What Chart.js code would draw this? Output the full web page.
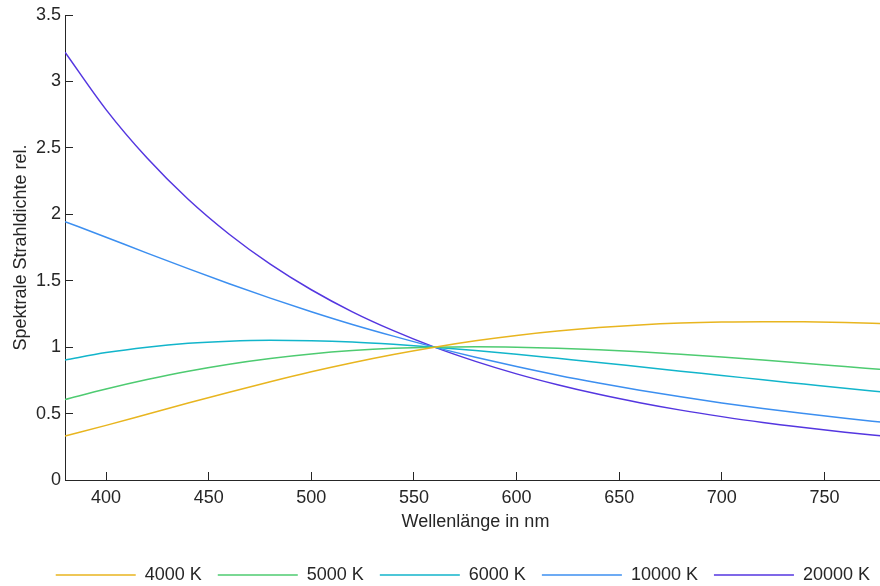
<!DOCTYPE html>
<html>
<head>
<meta charset="utf-8">
<script src="https://cdn.jsdelivr.net/npm/chart.js@4/dist/chart.umd.min.js"></script>
<style>
	html, body { margin: 0; padding: 0; background: #fff; overflow: hidden; }
	#spektrum { display: block; }
</style>
</head>
<body>
<canvas id="spektrum" width="886" height="594"></canvas>
<script>
// Wellenlaengen in nm
const wellenlaenge = [380, 400, 420, 440, 460, 480, 500, 520, 540, 560, 580, 600, 620, 640, 660, 680, 700, 720, 740, 760, 780];

// relative spektrale Strahldichte, bei 560 nm auf 1 normiert
const k4000  = [0.331, 0.411, 0.495, 0.579, 0.661, 0.740, 0.815, 0.883, 0.945, 1.000, 1.048, 1.088, 1.121, 1.147, 1.167, 1.181, 1.189, 1.192, 1.191, 1.186, 1.177];
const k5000  = [0.606, 0.685, 0.756, 0.819, 0.872, 0.915, 0.949, 0.974, 0.991, 1.000, 1.003, 1.000, 0.992, 0.980, 0.965, 0.946, 0.926, 0.903, 0.879, 0.854, 0.829];
const k6000  = [0.903, 0.959, 1.000, 1.029, 1.045, 1.051, 1.048, 1.038, 1.021, 1.000, 0.975, 0.947, 0.916, 0.885, 0.852, 0.819, 0.787, 0.754, 0.722, 0.690, 0.660];
const k10000 = [1.945, 1.827, 1.708, 1.591, 1.477, 1.369, 1.267, 1.171, 1.083, 1.000, 0.924, 0.854, 0.789, 0.730, 0.676, 0.626, 0.580, 0.538, 0.500, 0.464, 0.432];
const k20000 = [3.220, 2.788, 2.423, 2.113, 1.850, 1.625, 1.432, 1.266, 1.124, 1.000, 0.893, 0.799, 0.717, 0.645, 0.582, 0.526, 0.477, 0.433, 0.395, 0.360, 0.329];

const namen  = ['4000 K', '5000 K', '6000 K', '10000 K', '20000 K'];
const farben = ['#e8b51f', '#4ecb71', '#12b5cb', '#3c8ff0', '#5436e0'];
const reihen = [k4000, k5000, k6000, k10000, k20000];

const xTicks = [400, 450, 500, 550, 600, 650, 700, 750];
const yTicks = [0, 0.5, 1, 1.5, 2, 2.5, 3, 3.5];

const dunkel = '#262626';
Chart.defaults.font.family = '"Liberation Sans", Arial, sans-serif';
Chart.defaults.font.size = 18;
Chart.defaults.color = dunkel;

let datasets = reihen.map(function(werte, i){
	return {
		label: namen[i],
		data: werte.map(function(y, j){ return { x: wellenlaenge[j], y: y } }),
		borderColor: farben[i],
		backgroundColor: farben[i],
		borderWidth: 1.5,
		pointRadius: 0,
		cubicInterpolationMode: 'monotone',
		fill: false
	}
});

// Tick-Beschriftung wie 0, 0.5, 1 ...
function zahl(v){ return String(v) }

new Chart(
	document.getElementById('spektrum'),
	{
		type: 'line',
		data: { datasets: datasets },
		options: {
			responsive: false,
			animation: false,
			layout: { padding: { top: 15, left: 0, right: 0, bottom: 0 } },
			plugins: {
				tooltip: { enabled: false },
				legend: {
					position: 'bottom',
					align: 'end',
					labels: {
						usePointStyle: true,
						pointStyle: 'line',
						pointStyleWidth: 80,
						boxHeight: 18,
						padding: 16,
						color: dunkel
					}
				}
			},
			scales: {
				x: {
					type: 'linear',
					min: 380,
					max: 780,
					afterBuildTicks: function(scale){
						scale.ticks = xTicks.map(function(v){ return { value: v } });
					},
					afterFit: function(scale){ scale.height = 70 },
					border: { color: dunkel, width: 1 },
					grid: { drawOnChartArea: false, drawTicks: true, tickLength: -8, color: dunkel },
					ticks: { padding: 15, maxRotation: 0, color: dunkel, callback: zahl },
					title: {
						display: true,
						text: 'Wellenlänge in nm',
						color: dunkel,
						padding: { top: 0, bottom: 17 }
					}
				},
				y: {
					min: 0,
					max: 3.5,
					afterBuildTicks: function(scale){
						scale.ticks = yTicks.map(function(v){ return { value: v } });
					},
					afterFit: function(scale){
						scale.width = 65;
						scale.paddingTop = 0;
						scale.paddingBottom = 0;
					},
					border: { color: dunkel, width: 1 },
					grid: { drawOnChartArea: false, drawTicks: true, tickLength: -8, color: dunkel },
					ticks: { padding: 12, color: dunkel, callback: zahl },
					title: {
						display: true,
						text: 'Spektrale Strahldichte rel.',
						color: dunkel,
						padding: { top: 10, bottom: 0 }
					}
				}
			}
		}
	}
);
</script>
</body>
</html>
